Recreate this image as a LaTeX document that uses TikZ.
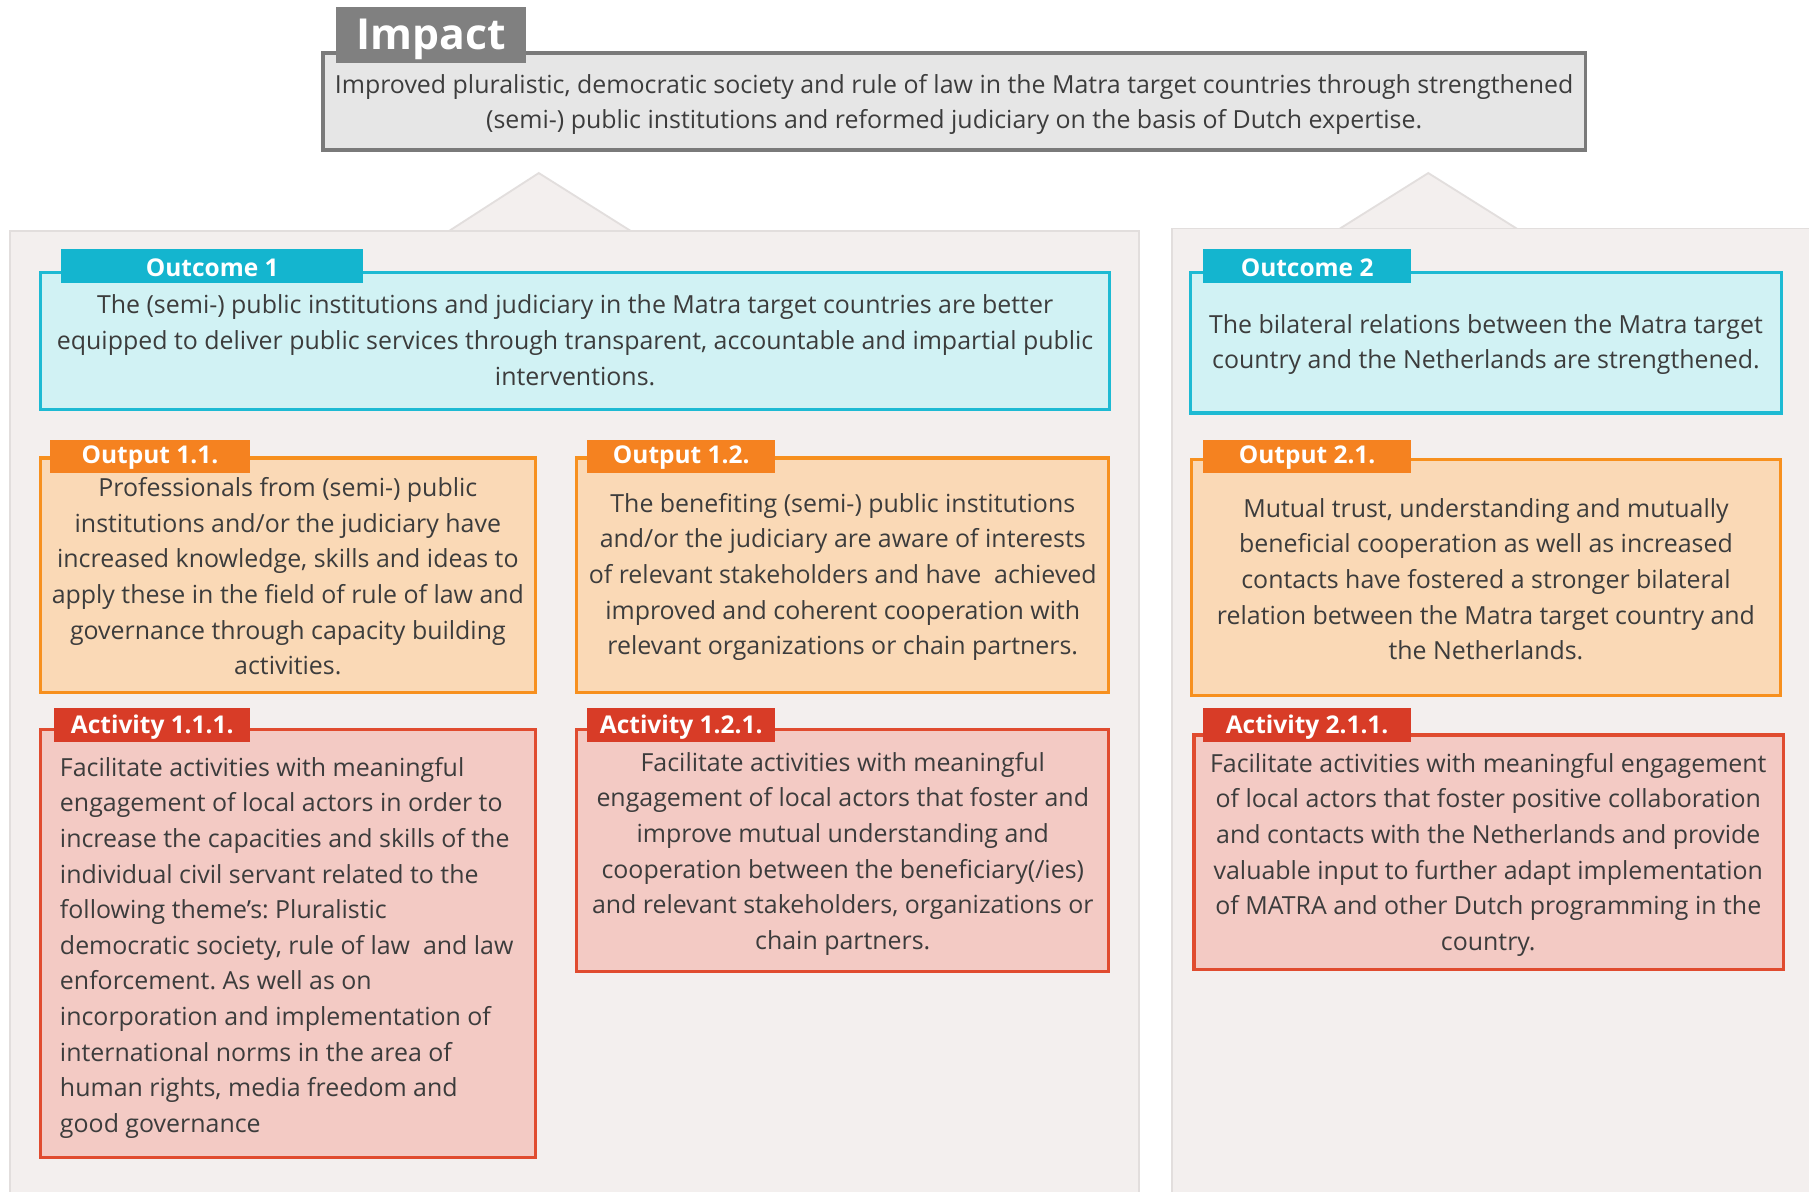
\documentclass[tikz,border=0pt]{standalone}
\usepackage{fontspec}
\setmainfont{Open Sans}
\definecolor{textc}{HTML}{3C3C3C}
\definecolor{panelfill}{HTML}{F3EFEE}
\definecolor{panelline}{HTML}{E2DEDD}
\definecolor{impfill}{HTML}{E6E6E6}
\definecolor{impline}{HTML}{7A7A7A}
\definecolor{imptab}{HTML}{808080}
\definecolor{cyfill}{HTML}{D1F2F4}
\definecolor{cyline}{HTML}{1DBAD3}
\definecolor{cytab}{HTML}{14B5CF}
\definecolor{orfill}{HTML}{FAD9B6}
\definecolor{orline}{HTML}{F7901E}
\definecolor{ortab}{HTML}{F58220}
\definecolor{rdfill}{HTML}{F3CAC4}
\definecolor{rdline}{HTML}{E04B2F}
\definecolor{rdtab}{HTML}{D83C27}
\begin{document}
\frenchspacing
\begin{tikzpicture}[x=0.5pt,y=-0.5pt,
  every node/.style={inner sep=0pt, outer sep=0pt},
  box/.style={anchor=north west, line width=1.4pt},
  impbox/.style={box, fill=impfill, draw=impline},
  cybox/.style={box, fill=cyfill, draw=cyline},
  orbox/.style={box, fill=orfill, draw=orline},
  rdbox/.style={box, fill=rdfill, draw=rdline},
  tab/.style={anchor=north west, minimum height=14.5pt},
  panel/.style={anchor=north west, fill=panelfill, draw=panelline, line width=0.8pt},
  txt/.style={text=textc, font=\frenchspacing\fontsize{10.8}{15.45}\selectfont, align=center},
  tabtxt/.style={text=white, font=\bfseries\fontsize{10.6}{12}\selectfont}]
\useasboundingbox (0,0) rectangle (1568,1033);
\fill[white] (0,0) rectangle (1568,1033);
% triangles
\filldraw[fill=panelfill, draw=panelline, line width=0.8pt] (388,201) -- (467,150) -- (548,201) -- cycle;
\filldraw[fill=panelfill, draw=panelline, line width=0.8pt] (1160,199) -- (1238,150) -- (1316,199) -- cycle;
% panels
\node[panel, minimum width=489pt, minimum height=425pt] (p1) at (9,200) {};
\node[panel, minimum width=277pt, minimum height=426pt] (p2) at (1016,198) {};
% impact
\node[impbox, minimum width=547pt, minimum height=42pt] (imp) at (280,46) {};
\node[tab, fill=imptab, minimum width=82.5pt, minimum height=24.5pt] (imptab) at (291,6) {};
\node[text=white, font=\bfseries\fontsize{18.5}{20}\selectfont] (imptxt) at (373.5,34) {Impact};
\node[txt] (impt) at (827,90.5) {Improved pluralistic, democratic society and rule of law in the Matra target countries through strengthened\\(semi-) public institutions and reformed judiciary on the basis of Dutch expertise.};
% outcome 1
\node[cybox, minimum width=463.5pt, minimum height=59.5pt] (oc1) at (35,236) {};
\node[tab, fill=cytab, minimum width=131pt] (oc1tab) at (53,216) {};
\node[tabtxt] at ([yshift=-0.7pt]oc1tab.center) {Outcome 1};
\node[txt] (oc1t) at (498.5,295) {The (semi-) public institutions and judiciary in the Matra target countries are better\\equipped to deliver public services through transparent, accountable and impartial public\\interventions.};
% outcome 2
\node[cybox, minimum width=256pt, minimum height=61pt] (oc2) at (1032,236) {};
\node[tab, fill=cytab, minimum width=90pt] (oc2tab) at (1043,216) {};
\node[tabtxt] at ([yshift=-0.7pt]oc2tab.center) {Outcome 2};
\node[txt] (oc2t) at (1288,298.5) {The bilateral relations between the Matra target\\country and the Netherlands are strengthened.};
% output 1.1
\node[orbox, minimum width=214.5pt, minimum height=101.5pt] (o11) at (35,397) {};
\node[tab, fill=ortab, minimum width=87pt] (o11tab) at (43,381) {};
\node[tabtxt] at ([yshift=-0.7pt]o11tab.center) {Output 1.1.};
\node[txt] (o11t) at (249.5,499.5) {Professionals from (semi-) public\\institutions and/or the judiciary have\\increased knowledge, skills and ideas to\\apply these in the field of rule of law and\\governance through capacity building\\activities.};
% output 1.2
\node[orbox, minimum width=230.5pt, minimum height=101.5pt] (o12) at (500,397) {};
\node[tab, fill=ortab, minimum width=81.5pt] (o12tab) at (509,381) {};
\node[tabtxt] at ([yshift=-0.7pt]o12tab.center) {Output 1.2.};
\node[txt] (o12t) at (730.5,500) {The benefiting (semi-) public institutions\\and/or the judiciary are aware of interests\\of relevant stakeholders and have\ \ achieved\\improved and coherent cooperation with\\relevant organizations or chain partners.};
% output 2.1
\node[orbox, minimum width=255pt, minimum height=102.5pt] (o21) at (1033,398) {};
\node[tab, fill=ortab, minimum width=90pt] (o21tab) at (1043,381) {};
\node[tabtxt] at ([yshift=-0.7pt]o21tab.center) {Output 2.1.};
\node[txt] (o21t) at (1288,502) {Mutual trust, understanding and mutually\\beneficial cooperation as well as increased\\contacts have fostered a stronger bilateral\\relation between the Matra target country and\\the Netherlands.};
% activity 1.1.1
\node[rdbox, minimum width=214.5pt, minimum height=185.5pt] (a111) at (35,632) {};
\node[tab, fill=rdtab, minimum width=85pt] (a111tab) at (47,614) {};
\node[tabtxt] at ([yshift=-0.7pt]a111tab.center) {Activity 1.1.1.};
\node[txt, align=left, anchor=west] (a111t) at (52,821.5) {Facilitate activities with meaningful\\engagement of local actors in order to\\increase the capacities and skills of the\\individual civil servant related to the\\following theme’s: Pluralistic\\democratic society, rule of law\ \ and law\\enforcement. As well as on\\incorporation and implementation of\\international norms in the area of\\human rights, media freedom and\\good governance};
% activity 1.2.1
\node[rdbox, minimum width=230.5pt, minimum height=105pt] (a121) at (500,632) {};
\node[tab, fill=rdtab, minimum width=81.5pt] (a121tab) at (509,614) {};
\node[tabtxt] at ([yshift=-0.7pt]a121tab.center) {Activity 1.2.1.};
\node[txt] (a121t) at (730.5,740) {Facilitate activities with meaningful\\engagement of local actors that foster and\\improve mutual understanding and\\cooperation between the beneficiary(/ies)\\and relevant stakeholders, organizations or\\chain partners.};
% activity 2.1.1
\node[rdbox, minimum width=255.5pt, minimum height=101.5pt] (a211) at (1035,637) {};
\node[tab, fill=rdtab, minimum width=90pt] (a211tab) at (1043,614) {};
\node[tabtxt] at ([yshift=-0.7pt]a211tab.center) {Activity 2.1.1.};
\node[txt] (a211t) at (1290,741) {Facilitate activities with meaningful engagement\\of local actors that foster positive collaboration\\and contacts with the Netherlands and provide\\valuable input to further adapt implementation\\of MATRA and other Dutch programming in the\\country.};
\end{tikzpicture}
\end{document}
